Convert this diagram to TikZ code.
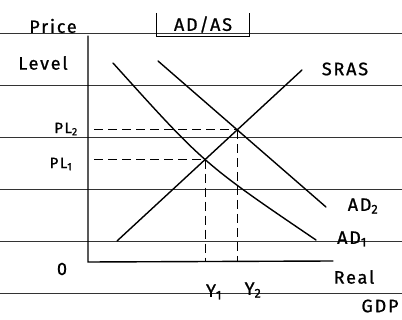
\documentclass[tikz,border=0pt]{standalone}
\usepackage{fontspec}
\setmainfont{Fira Sans}[LetterSpace=10, FakeBold=1]
\usetikzlibrary{intersections}

\begin{document}
\begin{tikzpicture}[
    x=1pt, y=-1pt,
    rule/.style={black!80, line width=0.8pt},
    axis/.style={line width=1.4pt, line cap=round},
    curve/.style={line width=1.4pt, line cap=round},
    guide/.style={line width=1pt, dash pattern=on 9pt off 5pt},
    lbl/.style={font=\fontsize{18}{18}\selectfont, inner sep=0pt},
    small/.style={font=\fontsize{15}{15}\selectfont, inner sep=0pt},
    titlebox/.style={font=\fontsize{18}{18}\selectfont, minimum width=92pt, minimum height=23pt, inner sep=0pt}
]
    \useasboundingbox (0,0) rectangle (402,320);
    % ruled paper
    \foreach \ry in {33,85,137,189,241,293}
        \draw[rule] (0,\ry) -- (402,\ry);

    % axes
    \coordinate (O) at (88,262);
    \coordinate (ytop) at (88,36);
    \coordinate (xend) at (333,261);
    \draw[axis] (ytop) -- (O) -- (xend);

    % SRAS and the two AD curves
    \coordinate (srasS) at (117,241);
    \coordinate (srasE) at (302,70);
    \coordinate (adoneS) at (113,63);
    \coordinate (adoneC) at (204,164);
    \coordinate (adoneE) at (316,240);
    \coordinate (adtwoS) at (158,61);
    \coordinate (adtwoE) at (326,207);
    \draw[curve, name path=sras] (srasS) -- (srasE);
    \draw[curve, name path=adone] (adoneS) .. controls (adoneC) .. (adoneE);
    \draw[curve, name path=adtwo] (adtwoS) -- (adtwoE);
    \path[name intersections={of=sras and adone, by=E1}];
    \path[name intersections={of=sras and adtwo, by=E2}];

    % dashed guides to the axes
    \coordinate (gstart) at (94,0);
    \draw[guide] (E1 -| gstart) -- (E1);
    \draw[guide] (E2 -| gstart) -- (E2);
    \draw[guide] (E1) -- (E1 |- O);
    \draw[guide] (E2) -- (E2 |- O);

    % labels
    \node[lbl] (price) at (53,26) {Price};
    \node[lbl] (level) at (43,63) {Level};
    \node[titlebox] (title) at (203,24.5) {AD/AS};
    \draw[line width=1pt] (title.north west) |- (title.south east) -- (title.north east);
    \node[lbl] (sraslbl) at (345,69) {SRAS};
    \node[small] (pltwo) at (66,129) {PL\textsubscript{2}};
    \node[small] (plone) at (61,164) {PL\textsubscript{1}};
    \node[lbl] (adtwolbl) at (363,206) {AD\textsubscript{2}};
    \node[lbl] (adonelbl) at (352,239) {AD\textsubscript{1}};
    \node[lbl] (origin) at (62,269) {0};
    \node[lbl] (yone) at (214,292) {Y\textsubscript{1}};
    \node[lbl] (ytwo) at (253,290) {Y\textsubscript{2}};
    \node[lbl] (real) at (354,277) {Real};
    \node[lbl] (gdp) at (380,306) {GDP};
\end{tikzpicture}
\end{document}
